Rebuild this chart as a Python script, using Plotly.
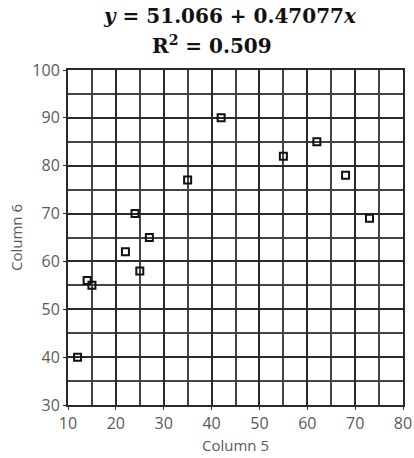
import plotly.graph_objects as go

# Column 5 vs Column 6 observations
col5 = [12, 14, 15, 22, 24, 25, 27, 35, 42, 55, 62, 68, 73]
col6 = [40, 56, 55, 62, 70, 58, 65, 77, 90, 82, 85, 78, 69]

x_ticks = [10, 20, 30, 40, 50, 60, 70, 80]
y_ticks = [30, 40, 50, 60, 70, 80, 90, 100]

fit_line = "<b><i>y</i> = 51.066 + 0.47077<i>x</i></b>"
r2_line = "<b>R<sup>2</sup> = 0.509</b>"

grid_col = "#2a2a2a"
label_col = "#5a5a5a"

fig = go.Figure()
fig.add_trace(go.Scatter(
    x=col5, y=col6, mode="markers",
    marker=dict(symbol="square-open", size=7, color="#111111",
                line=dict(width=2, color="#111111")),
    showlegend=False,
))

axis_common = dict(
    showline=True, linecolor=grid_col, linewidth=2, mirror=True,
    showgrid=True, gridcolor=grid_col, gridwidth=2,
    ticks="outside", ticklen=3, tickcolor=grid_col,
    tickfont=dict(family="Open Sans", size=16, color=label_col),
    zeroline=False, automargin=False,
)

fig.update_xaxes(
    range=[10, 80], tickvals=x_ticks, **axis_common,
    minor=dict(dtick=5, showgrid=True, gridcolor="#444444", gridwidth=1.5),
    title=dict(text="Column 5", font=dict(family="Open Sans", size=15, color=label_col), standoff=7),
)
fig.update_yaxes(
    range=[30, 100], tickvals=y_ticks, **axis_common,
    minor=dict(dtick=5, showgrid=True, gridcolor="#444444", gridwidth=1.5),
    title=dict(text="Column 6", font=dict(family="Open Sans", size=15, color=label_col), standoff=6),
)

# Regression equation and R² above the plot
fig.add_annotation(text=fit_line, xref="paper", yref="paper", x=0.485, y=1.161,
                   xanchor="center", yanchor="middle", showarrow=False,
                   font=dict(family="DejaVu Serif", size=20, color="#111111"))
fig.add_annotation(text=r2_line, xref="paper", yref="paper", x=0.43, y=1.075,
                   xanchor="center", yanchor="middle", showarrow=False,
                   font=dict(family="DejaVu Serif", size=20, color="#111111"))

fig.update_layout(
    width=414, height=458,
    margin=dict(l=68, r=11, t=70, b=53),
    paper_bgcolor="white", plot_bgcolor="white",
)

fig.write_html("out.html")
